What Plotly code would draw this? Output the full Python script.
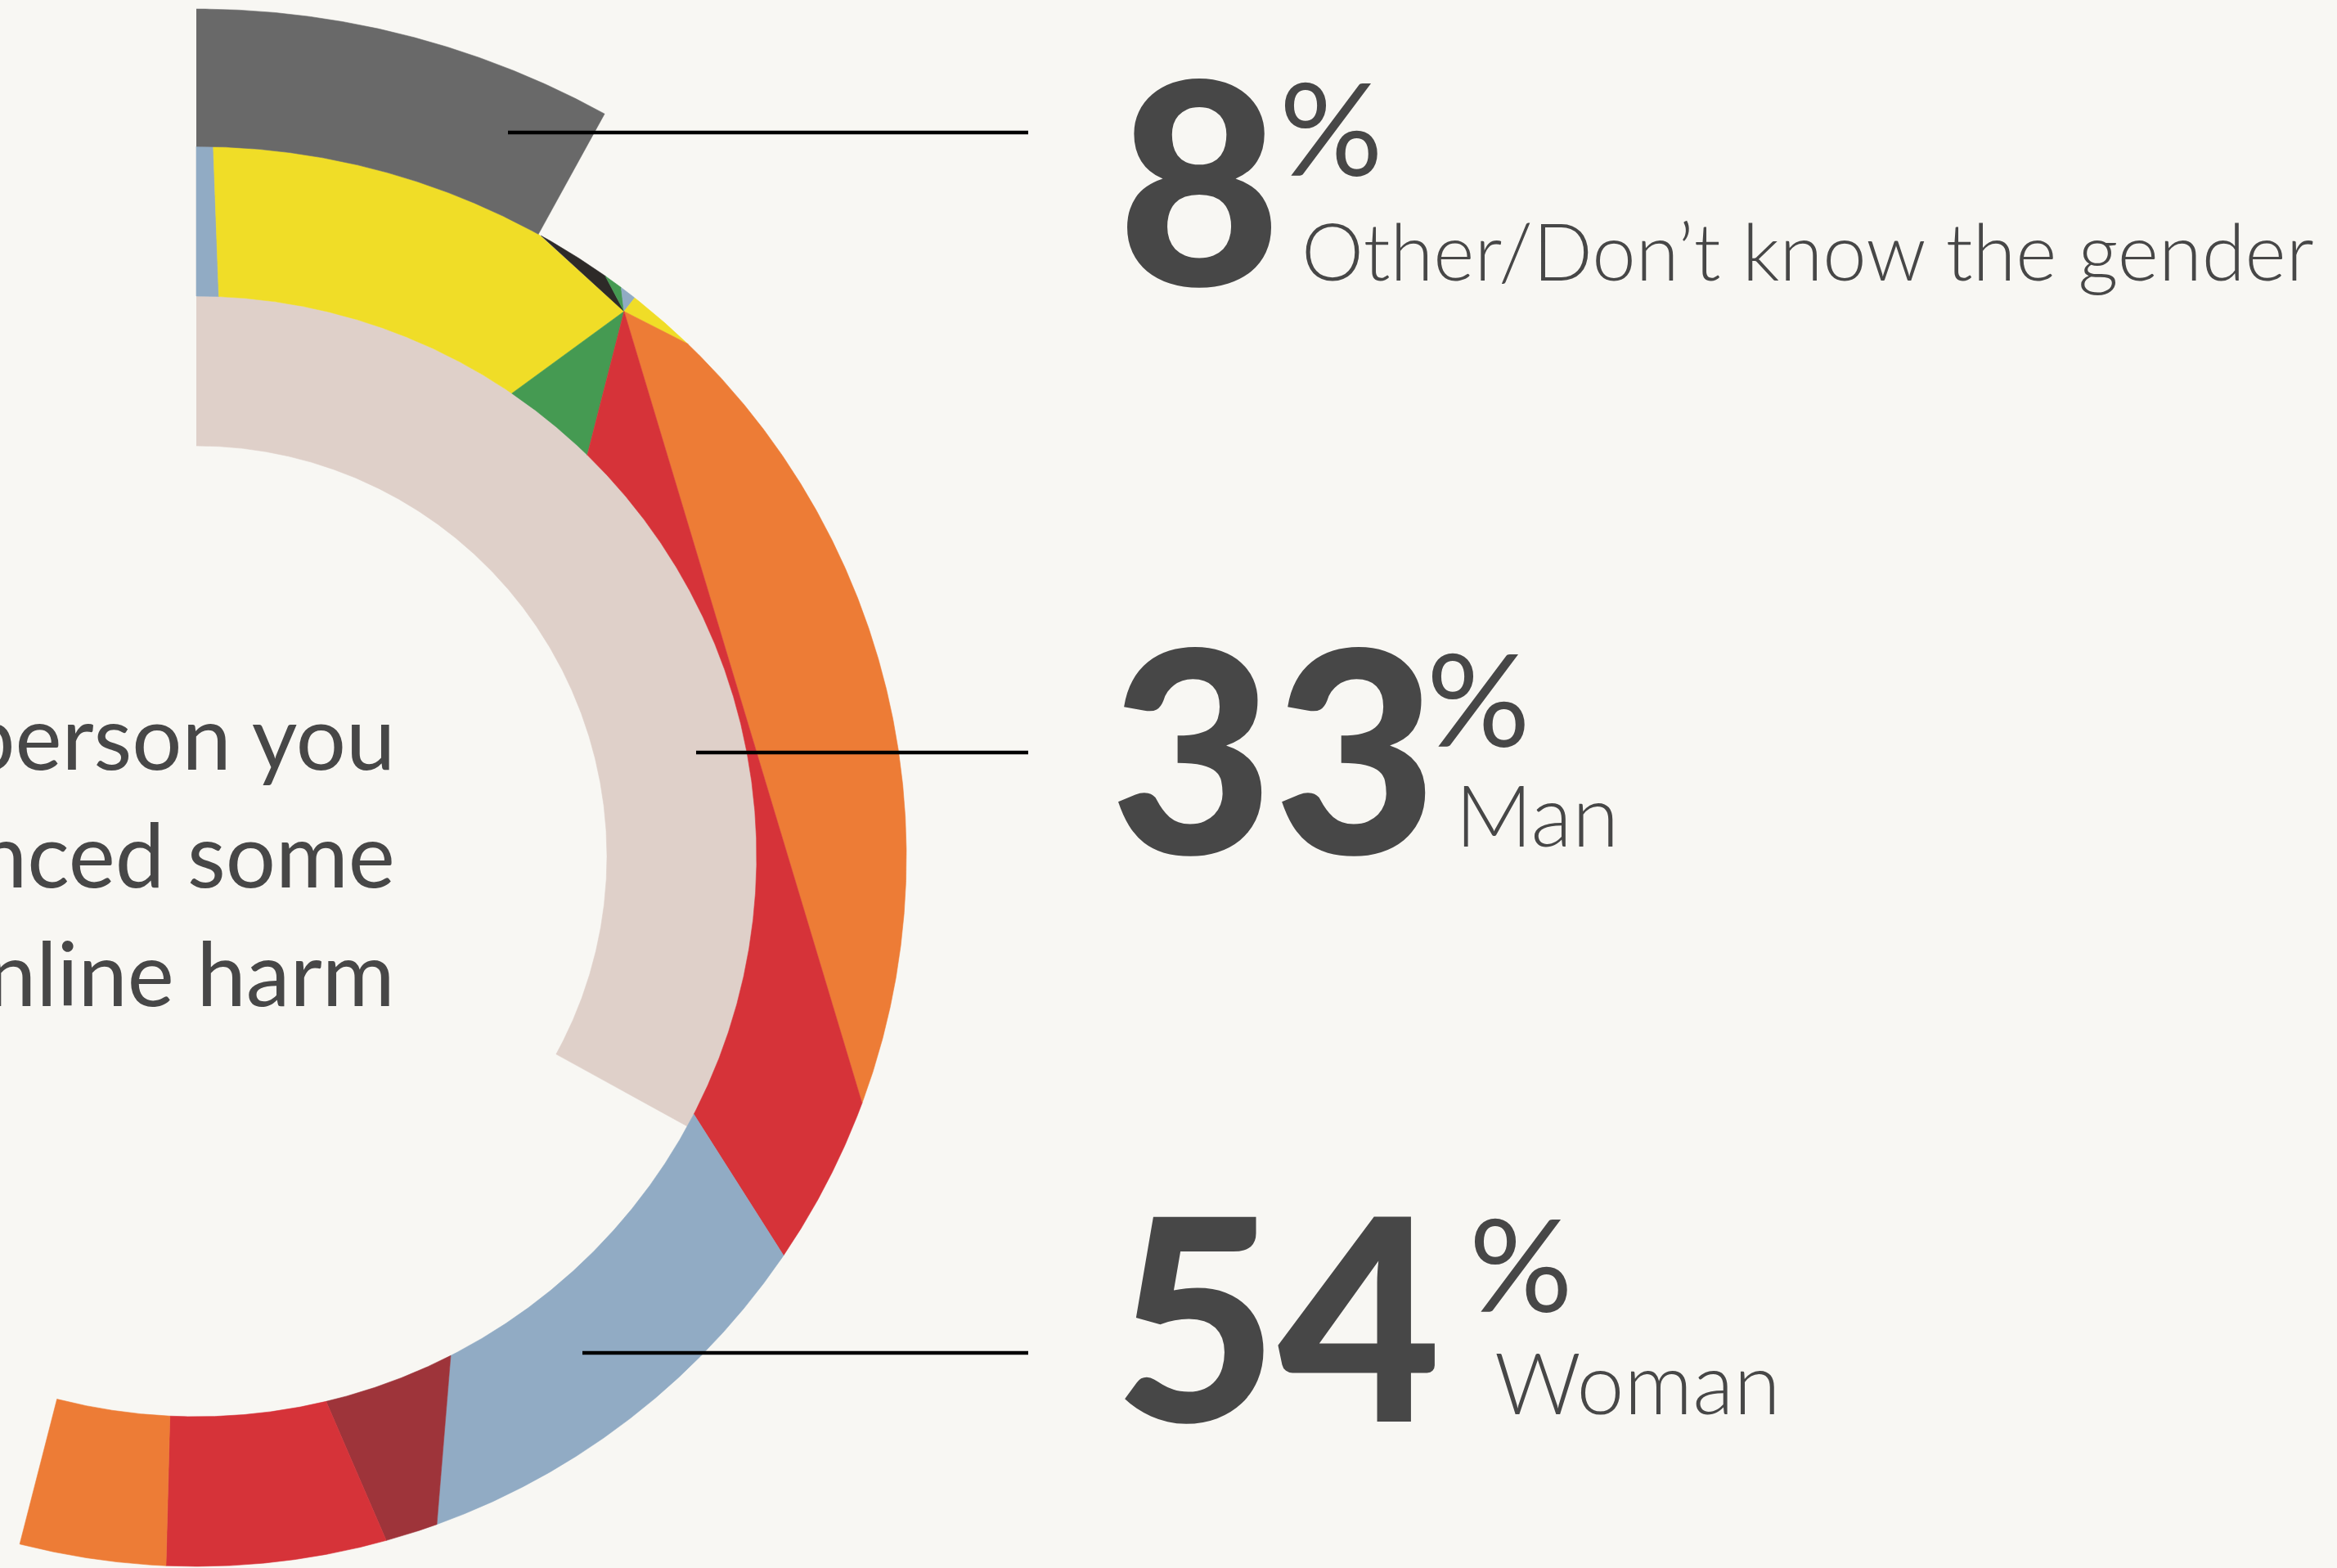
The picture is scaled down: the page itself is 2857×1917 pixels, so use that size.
import numpy as np
import plotly.graph_objects as go

# ---------------- data (percent of the full circle) ----------------
gender_labels = ["Other/Don’t know the gender", "Man", "Woman"]
gender_pct = [8, 33, 54]

intro_lines = ["Gender of the person you", "experienced some", "form of online harm"]

# Woman ring: sub-segments, edges given as cumulative percent of the circle
woman_colors = ["#91abc4", "#f0dd27", "#2d2a28", "#459a52", "#91abc4", "#f0dd27",
                "#ed7c36", "#d63339", "#91abc4", "#9e343a", "#d63339", "#ed7c36"]
woman_inner_from = [0.0, 0.64, None, 9.52, None, None, None, 12.29, 32.61, 42.50, 46.28, 50.75]
woman_inner_to   = [0.64, 9.52, None, 12.29, None, None, None, 32.61, 42.50, 46.28, 50.75, 54.0]
woman_outer_from = [0.0, 0.38, 8.07, 9.77, 10.21, 10.59, 12.16, 30.65, 34.50, 44.50, 45.69, 50.68]
woman_outer_to   = [0.38, 8.07, 9.77, 10.21, 10.59, 12.16, 30.65, 34.50, 44.50, 45.69, 50.68, 54.0]
woman_pivot_start = [False, False, True, True, True, True, True, True, False, False, False, False]
woman_pivot_end   = [False, True, True, True, True, True, True, False, False, False, False, False]

# ---------------- geometry / style ----------------
W, H = 2857, 1917
CX, CY = 240, 1047
R0, R1, R2, R3 = 502, 685, 868, 1036
PIVOT_PCT, PIVOT_R = 10.59, 847
BG = "#f8f7f3"
TXT = "#474747"
C_OTHER, C_MAN = "#696969", "#dfd0c9"


def pt(r, p):
    a = np.deg2rad(p * 3.6)
    return r * np.sin(a), r * np.cos(a)


def arc(r, p0, p1):
    n = max(2, int(abs(p1 - p0) * 3.6 / 0.2) + 2)
    ps = np.linspace(p0, p1, n)
    x, y = pt(r, ps)
    return list(x), list(y)


def ring_wedge(ri, ro, p0, p1):
    xi, yi = arc(ri, p0, p1)
    xo, yo = arc(ro, p1, p0)
    return xi + xo, yi + yo


fig = go.Figure()

def add_poly(x, y, color):
    fig.add_trace(go.Scatter(x=x, y=y, fill="toself", fillcolor=color, mode="lines",
                             line=dict(width=0.6, color=color), hoverinfo="skip",
                             showlegend=False))

# Man ring (inner)
x, y = ring_wedge(R0, R1, 0, gender_pct[1])
add_poly(x, y, C_MAN)

# Woman ring (middle)
px, py = pt(PIVOT_R, PIVOT_PCT)
for i, col in enumerate(woman_colors):
    xs, ys = [], []
    has_inner = woman_inner_from[i] is not None
    if has_inner:
        ax, ay = arc(R1, woman_inner_from[i], woman_inner_to[i])
        xs += ax; ys += ay
    if woman_pivot_end[i] or not has_inner:
        xs.append(px); ys.append(py)
    ax, ay = arc(R2, woman_outer_to[i], woman_outer_from[i])
    xs += ax; ys += ay
    if woman_pivot_start[i] and has_inner:
        xs.append(px); ys.append(py)
    add_poly(xs + xs[:1], ys + ys[:1], col)

# Other ring (outer)
x, y = ring_wedge(R2, R3, 0, gender_pct[0])
add_poly(x, y, C_OTHER)

# ---------------- callouts ----------------
def X(px_):
    return px_ - CX

def Y(py_):
    return CY - py_

line_y = [162, 920, 1654]
line_x0 = [621, 851, 712]
line_x1 = 1257
for ly, lx in zip(line_y, line_x0):
    fig.add_shape(type="line", x0=X(lx), x1=X(line_x1), y0=Y(ly), y1=Y(ly),
                  line=dict(color="#000000", width=4.5))

num_x = [1364, 1355, 1360]
num_y = [215, 910, 1604]
pct_x = [1562, 1742, 1794]
pct_y = [154, 852, 1543]
lab_x = [1589, 1777, 1825]
lab_y = [305, 994, 1688]
lab_size = [96, 104, 104]
for i in range(3):
    fig.add_annotation(x=X(num_x[i]), y=Y(num_y[i]), text=str(gender_pct[i]),
                       xanchor="left", yanchor="middle", showarrow=False,
                       font=dict(family="Lato", size=345, color=TXT, weight=900))
    fig.add_annotation(x=X(pct_x[i]), y=Y(pct_y[i]), text="%",
                       xanchor="left", yanchor="middle", showarrow=False,
                       font=dict(family="Lato", size=158, color=TXT, weight=400))
    fig.add_annotation(x=X(lab_x[i]), y=Y(lab_y[i]), text=gender_labels[i],
                       xanchor="left", yanchor="middle", showarrow=False,
                       font=dict(family="Lato", size=lab_size[i], color=TXT, weight=300))

intro_y = [899, 1043, 1188]
for t, yy in zip(intro_lines, intro_y):
    fig.add_annotation(x=X(485), y=Y(yy), text=t, xanchor="right", yanchor="middle",
                       showarrow=False,
                       font=dict(family="Lato", size=108, color=TXT, weight=400))

fig.update_layout(
    width=W, height=H, autosize=False,
    margin=dict(l=0, r=0, t=0, b=0),
    paper_bgcolor=BG, plot_bgcolor=BG,
    xaxis=dict(range=[-CX, W - CX], visible=False, fixedrange=True),
    yaxis=dict(range=[CY - H, CY], visible=False, fixedrange=True),
    showlegend=False,
)

fig.write_html("out.html",
               config={"displayModeBar": False, "staticPlot": True},
               post_script="document.body.style.margin='0';document.body.style.overflow='hidden';"
                           "document.body.style.background='" + BG + "';")
